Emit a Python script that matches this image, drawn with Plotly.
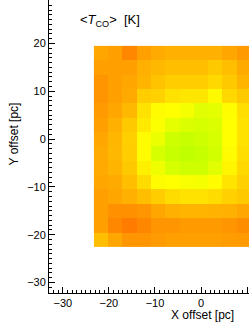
import plotly.graph_objects as go

# cell centres (pc)
x_centers = [-21.7, -18.6, -15.5, -12.4, -9.3, -6.2, -3.1, 0.0, 3.1, 6.2, 9.3]
y_centers = [18, 15, 12, 9, 6, 3, 0, -3, -6, -9, -12, -15, -18, -21]

# <T_CO> [K], rows listed top (y=18) to bottom (y=-21)
t_row_01 = [12.2, 11.9, 10.7, 11.9, 12.4, 12.7, 12.7, 12.7, 12.7, 12.2, 11.7]
t_row_02 = [11.9, 11.9, 11.9, 12.7, 13.1, 13.4, 13.4, 13.4, 13.9, 13.4, 12.4]
t_row_03 = [11.4, 11.9, 12.2, 12.9, 13.6, 14.1, 14.1, 14.1, 14.6, 13.9, 12.9]
t_row_04 = [11.4, 11.9, 12.4, 14.1, 14.3, 15.1, 15.3, 15.3, 16.2, 14.6, 13.9]
t_row_05 = [11.7, 12.2, 13.1, 15.1, 16.3, 16.5, 17.0, 18.1, 18.0, 16.4, 14.9]
t_row_06 = [11.9, 12.7, 13.9, 15.5, 16.7, 17.9, 18.4, 18.7, 18.4, 16.5, 15.1]
t_row_07 = [12.2, 13.0, 14.2, 16.3, 17.6, 19.2, 19.5, 19.2, 18.7, 16.5, 15.1]
t_row_08 = [12.4, 13.1, 14.1, 16.3, 18.7, 19.5, 19.9, 19.6, 18.9, 16.3, 14.9]
t_row_09 = [12.4, 12.9, 13.9, 15.8, 17.3, 18.7, 19.2, 19.2, 18.1, 16.0, 14.6]
t_row_10 = [12.2, 12.4, 13.4, 14.8, 16.3, 16.5, 16.8, 17.0, 16.4, 15.2, 14.3]
t_row_11 = [11.9, 12.2, 12.7, 13.4, 14.1, 14.8, 15.1, 15.1, 14.8, 14.3, 13.9]
t_row_12 = [11.9, 11.2, 11.2, 11.4, 12.2, 12.7, 12.9, 12.9, 12.8, 12.7, 12.2]
t_row_13 = [11.9, 10.7, 10.2, 10.7, 11.4, 11.4, 11.7, 11.7, 11.7, 11.4, 11.0]
t_row_14 = [13.4, 12.2, 11.4, 11.4, 11.7, 11.9, 11.9, 11.9, 11.9, 11.8, 11.7]

t_rows = [t_row_01, t_row_02, t_row_03, t_row_04, t_row_05, t_row_06, t_row_07,
          t_row_08, t_row_09, t_row_10, t_row_11, t_row_12, t_row_13, t_row_14]

tick_vals = [-30, -20, -10, 0, 10, 20, 30]
tick_text = ["\u221230", "\u221220", "\u221210", "0", "10", "20", "30"]

FONT = "Liberation Sans, Arial, Helvetica, sans-serif"

fig = go.Figure(go.Heatmap(
    x=x_centers, y=y_centers, z=t_rows,
    zmin=10, zmax=20,
    colorscale=[[0.0, "rgb(255,120,0)"], [0.65, "rgb(255,255,0)"], [1.0, "rgb(190,255,0)"]],
    showscale=False, zsmooth=False, hoverinfo="skip",
))

axis_common = dict(
    showline=True, linecolor="black", linewidth=1, mirror=False,
    showgrid=False, zeroline=False, automargin=False,
    ticks="inside", ticklen=6, tickwidth=1, tickcolor="black",
    tickvals=tick_vals, ticktext=tick_text,
    tickfont=dict(family=FONT, size=11, color="black"),
    minor=dict(dtick=1, tick0=0, ticks="inside", ticklen=3, tickwidth=1, tickcolor="black"),
)

fig.update_xaxes(range=[-33.0, 10.4], **axis_common)
fig.update_yaxes(range=[-32.2, 29.1], **axis_common)

fig.update_layout(
    width=249, height=323,
    margin=dict(l=49, r=0, t=0, b=30, pad=0, autoexpand=False),
    paper_bgcolor="white", plot_bgcolor="white",
    font=dict(family=FONT, color="black"),
    showlegend=False,
    annotations=[
        dict(text="&lt;<i>T</i><sub>CO</sub>&gt;  [K]", xref="paper", yref="paper",
             x=0.145, y=0.9317, xanchor="left", yanchor="middle", showarrow=False,
             font=dict(family=FONT, size=13, color="black")),
        dict(text="Y offset [pc]", xref="paper", yref="paper", textangle=-90,
             x=-0.1775, y=0.5427, xanchor="center", yanchor="middle", showarrow=False,
             font=dict(family=FONT, size=12, color="black")),
        dict(text="X offset [pc]", xref="paper", yref="paper",
             x=0.765, y=-0.0735, xanchor="center", yanchor="middle", showarrow=False,
             font=dict(family=FONT, size=12, color="black")),
        dict(text="30", xref="paper", yref="paper",
             x=-0.03, y=1.0147, xanchor="right", yanchor="middle", showarrow=False,
             font=dict(family=FONT, size=11, color="black")),
    ],
)

fig.write_html(
    "out.html",
    config={"displayModeBar": False, "staticPlot": True},
    post_script="document.body.style.margin='0';document.body.style.overflow='hidden';",
)
